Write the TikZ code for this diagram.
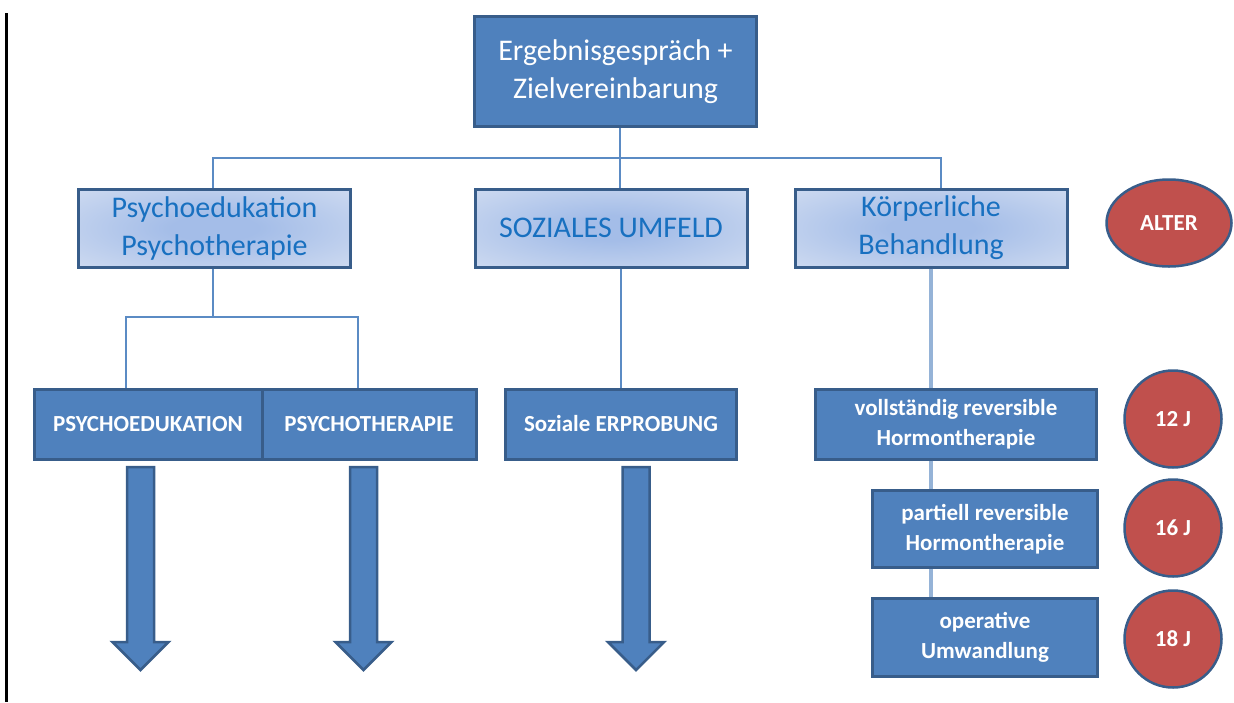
\documentclass[tikz,border=0pt]{standalone}
\usepackage{fontspec}
\setmainfont{Carlito}
\usepackage{tikz}
\usetikzlibrary{shapes.geometric}

\definecolor{boxblue}{RGB}{79,129,189}
\definecolor{boxline}{RGB}{56,93,138}
\definecolor{lineblue}{RGB}{91,139,196}
\definecolor{paleline}{RGB}{149,179,215}
\definecolor{textblue}{RGB}{24,112,192}
\definecolor{shadein}{RGB}{164,189,232}
\definecolor{shadeout}{RGB}{224,231,244}
\definecolor{agered}{RGB}{192,80,77}
\pgfdeclareradialshading{boxglow}{\pgfpoint{0bp}{0bp}}{color(0bp)=(shadein); color(8bp)=(shadein); color(48bp)=(shadeout); color(100bp)=(shadeout)}

\begin{document}
\begin{tikzpicture}[x=1pt,y=-1pt]
\tikzset{dark/.style={draw=boxline, fill=boxblue, line width=3pt, text=white, inner sep=0pt, align=center, font=\bfseries\fontsize{23}{30}\selectfont}}
\tikzset{pale/.style={draw=boxline, line width=3pt, shading=boxglow, text=textblue, inner sep=0pt, align=center, minimum width=272pt, minimum height=78pt, font=\fontsize{30}{38}\selectfont}}
\tikzset{age/.style={circle, draw=boxline, fill=agered, line width=2.5pt, text=white, minimum size=97pt, inner sep=0pt, font=\bfseries\fontsize{23}{30}\selectfont}}

\useasboundingbox (0,0) rectangle (1234,702);
\draw[line width=3pt] (6,13) -- (6,702);

\node[dark, minimum width=282pt, minimum height=110pt, font=\fontsize{30}{38}\selectfont] (top) at (615.5,71.5) {Ergebnisgespräch +\\Zielvereinbarung};

\node[pale] (psy) at (214.5,228) {Psychoedukation\\Psychotherapie};
\node[pale] (soz) at (611,228) {SOZIALES UMFELD};
\node[pale] (koerp) at (931,228) {Körperliche\\Behandlung};
\node[ellipse, draw=boxline, fill=agered, line width=2.5pt, text=white, minimum width=125pt, minimum height=87pt, font=\bfseries\fontsize{23}{30}\selectfont] (alter) at (1169,223) {ALTER};

\begin{scope}[every node/.append style={minimum height=70pt}]
\node[dark, minimum width=228pt] (pe) at (148,424) {PSYCHOEDUKATION};
\node[dark, minimum width=214pt] (pt) at (369,424) {PSYCHOTHERAPIE};
\node[dark, minimum width=231pt] (se) at (621,424) {Soziale ERPROBUNG};
\node[dark, minimum width=281pt] (voll) at (956,424) {vollständig reversible\\Hormontherapie};
\node[dark, minimum width=225pt, minimum height=77pt] (part) at (985,529) {partiell reversible\\Hormontherapie};
\node[dark, minimum width=225pt, minimum height=78pt] (oper) at (985,637.5) {operative\\Umwandlung};
\end{scope}

\node[age] (j12) at (1173,419) {12 J};
\node[age] (j16) at (1173,528) {16 J};
\node[age] (j18) at (1173,639) {18 J};

\coordinate (bus) at (620,158);
\coordinate (split) at (213,317);
\begin{scope}[lineblue, line width=2pt]
\draw (top.south -| bus) -- (soz.north -| bus);
\draw (psy.north -| split) |- (bus) -| ([xshift=10pt]koerp.north);
\draw (psy.south -| split) -- (split);
\draw ([xshift=-22pt]pe.north) |- (split) -| ([xshift=-11pt]pt.north);
\draw (se.north) -- (se.north |- soz.south);
\end{scope}
\begin{scope}[paleline, line width=4pt]
\draw (koerp.south) -- (koerp.south |- voll.north);
\draw (koerp.south |- voll.south) -- (koerp.south |- part.north);
\draw (koerp.south |- part.south) -- (koerp.south |- oper.north);
\end{scope}

% block arrows under the left boxes
\foreach \ax in {140.5,363.5,636}
  \draw[line width=2.5pt, draw=boxline, fill=boxblue] (\ax-13.5,467) -- (\ax+13.5,467) -- (\ax+13.5,642) -- (\ax+28,642) -- (\ax,670) -- (\ax-28,642) -- (\ax-13.5,642) -- cycle;

\end{tikzpicture}
\end{document}
